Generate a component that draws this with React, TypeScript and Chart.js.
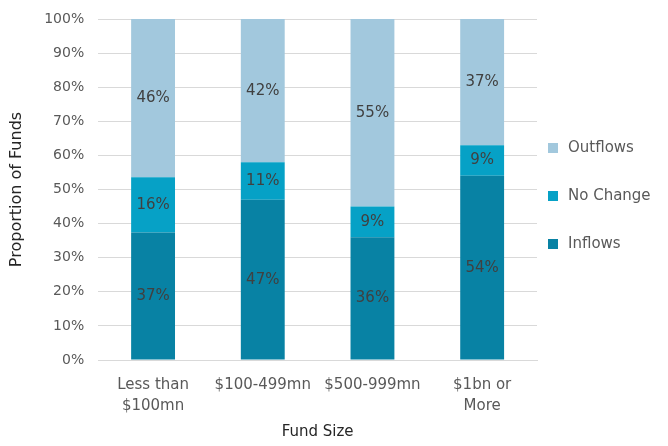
import React, { useEffect, useRef } from "react";
import { Chart, registerables } from "chart.js";

Chart.register(...registerables);

const categories: (string | string[])[] = [["Less than", "$100mn"], "$100-499mn", "$500-999mn", ["$1bn or", "More"]];
const seriesNames = ["Inflows", "No Change", "Outflows"];
const inflows = [37.4, 47, 36, 54];
const noChange = [16.2, 11, 9, 9];
const outflows = [46.4, 42, 55, 37];
const yTicks = [0, 10, 20, 30, 40, 50, 60, 70, 80, 90, 100];
const colors = ["#0882A4", "#06A1C6", "#A2C8DD"];

const FONT = "'DejaVu Sans', sans-serif";

const labelPlugin = {
  id: "barLabels",
  afterDatasetsDraw(chart: any) {
    const ctx = chart.ctx;
    ctx.save();
    ctx.font = `15px ${FONT}`;
    ctx.fillStyle = "#404040";
    ctx.textAlign = "center";
    ctx.textBaseline = "middle";
    chart.data.datasets.forEach((ds: any, di: number) => {
      const meta = chart.getDatasetMeta(di);
      meta.data.forEach((el: any, i: number) => {
        const v = ds.data[i];
        const p = el.getProps(["x", "y", "base"], true);
        ctx.fillText(`${Math.round(v)}%`, p.x, (p.y + p.base) / 2);
      });
    });
    ctx.restore();
  },
};

const legendPlugin = {
  id: "sideLegend",
  afterDraw(chart: any) {
    const ctx = chart.ctx;
    const area = chart.chartArea;
    const ds = chart.data.datasets.slice().reverse();
    const spacing = 48;
    const cy = (area.top + area.bottom) / 2 + 6.5;
    const x0 = area.right + 11;
    ctx.save();
    ctx.font = `15px ${FONT}`;
    ctx.textBaseline = "middle";
    ctx.textAlign = "left";
    ds.forEach((d: any, i: number) => {
      const y = cy + (i - (ds.length - 1) / 2) * spacing;
      ctx.fillStyle = d.backgroundColor;
      ctx.fillRect(x0, y - 5, 10, 10);
      ctx.fillStyle = "#595959";
      ctx.fillText(d.label, x0 + 20, y);
    });
    ctx.restore();
  },
};

export default function App() {
  const ref = useRef<HTMLCanvasElement>(null);
  useEffect(() => {
    document.body.style.margin = "0";
    const chart = new Chart(ref.current!, {
      type: "bar",
      data: {
        labels: categories,
        datasets: [inflows, noChange, outflows].map((d, i) => ({
          label: seriesNames[i],
          data: d,
          backgroundColor: colors[i],
          categoryPercentage: 0.8,
          barPercentage: 0.5,
        })),
      },
      options: {
        animation: false,
        responsive: false,
        layout: { padding: { top: 0, right: 131, left: 3, bottom: 5 } },
        plugins: {
          legend: { display: false },
          tooltip: { enabled: false },
        },
        scales: {
          x: {
            stacked: true,
            grid: { display: false, drawTicks: false },
            border: { color: "#D9D9D9" },
            ticks: { color: "#595959", font: { family: FONT, size: 15, lineHeight: 1.4 }, maxRotation: 0, padding: 15 },
            title: { display: true, text: "Fund Size", color: "#262626", font: { family: FONT, size: 15 }, padding: { top: -9, bottom: 0 } },
          },
          y: {
            stacked: true,
            min: 0,
            max: 100,
            afterBuildTicks: (axis: any) => {
              axis.ticks = yTicks.map((v) => ({ value: v }));
            },
            afterFit: (axis: any) => {
              axis.paddingTop = 19;
            },
            grid: { color: "#D9D9D9", drawTicks: false },
            border: { display: false },
            ticks: {
              color: "#595959",
              font: { family: FONT, size: 14 },
              padding: 14,
              callback: (v: any) => `${v}%`,
            },
            title: { display: true, text: "Proportion of Funds", color: "#262626", font: { family: FONT, size: 16 } },
          },
        },
      },
      plugins: [labelPlugin, legendPlugin],
    });
    return () => chart.destroy();
  }, []);
  return (
    <div style={{ position: "absolute", left: 0, top: 0, width: 668, height: 446 }}>
      <canvas ref={ref} width={668} height={446} />
    </div>
  );
}
